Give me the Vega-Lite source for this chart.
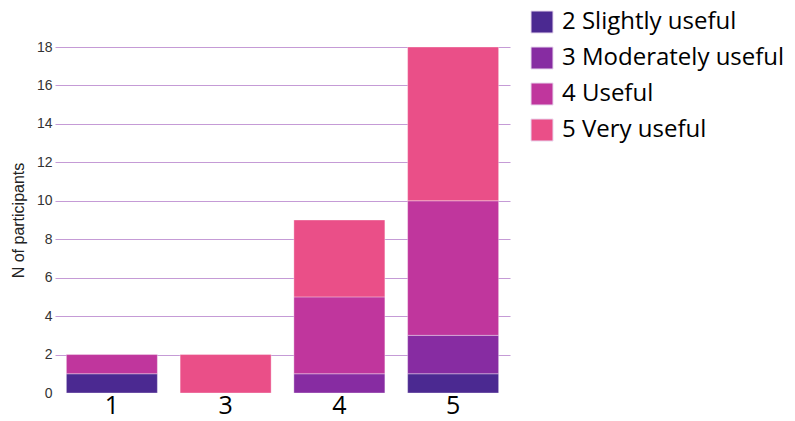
{
  "$schema": "https://vega.github.io/schema/vega-lite/v6.json",
  "autosize": "none",
  "width": 455,
  "height": 346,
  "padding": {"left": 55, "top": 47, "right": 285, "bottom": 28},
  "background": "white",
  "data": {"values": [
    {"x": "1", "level": "2 Slightly useful", "n": 1},
    {"x": "1", "level": "4 Useful", "n": 1},
    {"x": "3", "level": "5 Very useful", "n": 2},
    {"x": "4", "level": "3 Moderately useful", "n": 1},
    {"x": "4", "level": "4 Useful", "n": 4},
    {"x": "4", "level": "5 Very useful", "n": 4},
    {"x": "5", "level": "2 Slightly useful", "n": 1},
    {"x": "5", "level": "3 Moderately useful", "n": 2},
    {"x": "5", "level": "4 Useful", "n": 7},
    {"x": "5", "level": "5 Very useful", "n": 8}
  ]},
  "mark": {"type": "bar", "stroke": "#ffffff", "strokeOpacity": 0.35, "strokeWidth": 1},
  "encoding": {
    "x": {
      "field": "x", "type": "nominal", "sort": ["1", "3", "4", "5"],
      "scale": {"paddingInner": 0.2, "paddingOuter": 0.1},
      "axis": {"title": null, "labelAngle": 0, "labelFontSize": 25, "labelFont": "Open Sans", "labelColor": "#000000", "ticks": false, "domain": false, "labelPadding": 0}
    },
    "y": {
      "field": "n", "type": "quantitative", "aggregate": "sum", "stack": "zero",
      "scale": {"domain": [0, 18]},
      "axis": {
        "title": "N of participants", "titleFont": "Liberation Sans", "titleFontSize": 16, "titleFontWeight": "normal", "titleColor": "#222222", "titlePadding": 10,
        "values": [0, 2, 4, 6, 8, 10, 12, 14, 16, 18],
        "labelFont": "Liberation Sans", "labelFontSize": 14, "labelColor": "#333333", "labelPadding": 3,
        "ticks": false, "domain": false,
        "gridColor": "#c59bd6", "gridWidth": 1,
        "gridOpacity": {"condition": {"test": "datum.value === 0", "value": 0}, "value": 1}
      }
    },
    "color": {
      "field": "level", "type": "nominal",
      "scale": {
        "domain": ["2 Slightly useful", "3 Moderately useful", "4 Useful", "5 Very useful"],
        "range": ["#4b2991", "#872ca2", "#c0369d", "#ea4f88"]
      },
      "legend": {
        "title": null, "orient": "none", "legendX": 475, "legendY": -37,
        "symbolType": "square", "symbolSize": 484, "symbolStrokeWidth": 1, "symbolStrokeColor": "#e8d8ee",
        "labelFont": "Open Sans", "labelFontSize": 24, "labelColor": "#000000", "labelOffset": 8,
        "rowPadding": 10, "labelLimit": 400
      }
    },
    "order": {"field": "level", "sort": "ascending"}
  },
  "config": {"view": {"stroke": null}}
}
